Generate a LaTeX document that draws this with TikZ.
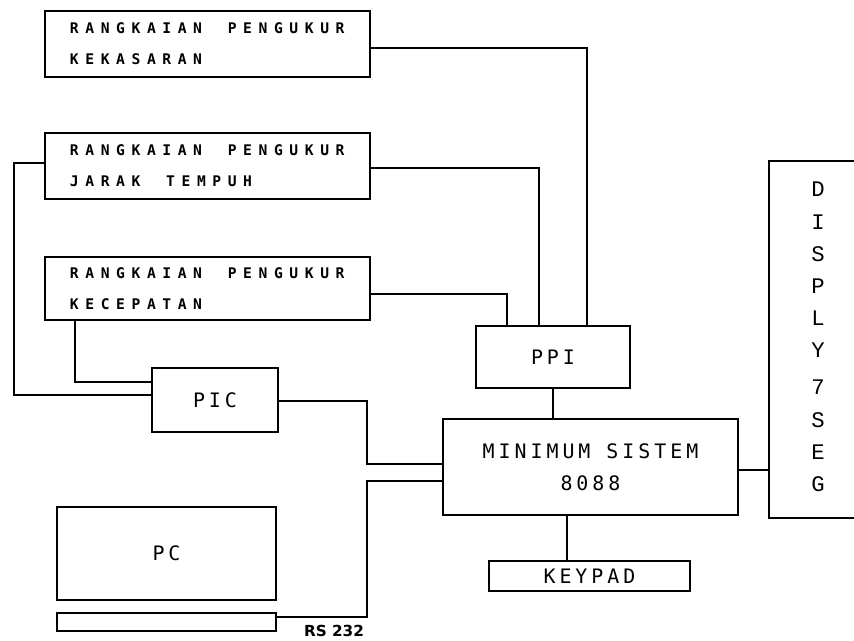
\documentclass[tikz,border=0pt]{standalone}
\usepackage{fontspec}
\usetikzlibrary{calc}
\newfontfamily\boxfont[LetterSpace=45,BoldFont={DejaVu Sans Mono Bold}]{DejaVu Sans Mono}
\newfontfamily\plotfont[LetterSpace=20]{DejaVu Sans Mono}
\newfontfamily\dispfont{Liberation Mono}
\newfontfamily\rsfont{DejaVu Sans}
\newcommand\rkfont{\boxfont\bfseries\fontsize{12.5}{26.4}\selectfont}
\newcommand\wsp{\hspace{22pt}}
\begin{document}
\begin{tikzpicture}[x=0.03cm,y=-0.03cm,
  blk/.style={draw, line width=1.3pt, inner sep=0pt},
  rk/.style={blk, minimum width=9.75cm, inner xsep=0.75cm, text width=8.25cm, align=left,
    font=\rkfont},
  pl/.style={blk, align=center, font=\plotfont\fontsize{17}{27}\selectfont},
  wire/.style={line width=1.3pt}]
\useasboundingbox (0,0) rectangle (854,641);
\clip (0,0) rectangle (854,641);
% blocks
\node[rk, minimum height=1.98cm] (b1) at (207.5,44) {RANGKAIAN\wsp PENGUKUR\\KEKASARAN};
\node[rk, minimum height=1.98cm] (b2) at (207.5,166) {RANGKAIAN\wsp PENGUKUR\\JARAK\wsp TEMPUH};
\node[rk, minimum height=1.89cm] (b3) at (207.5,288.5) {RANGKAIAN\wsp PENGUKUR\\KECEPATAN};
\node[pl, minimum width=3.78cm, minimum height=1.92cm] (pic) at (215,400) {PIC};
\node[pl, minimum width=4.62cm, minimum height=1.86cm] (ppi) at (553,357) {PPI};
\node[pl, minimum width=8.85cm, minimum height=2.88cm] (ms) at (590.5,467) {MINIMUM SISTEM\\8088};
\node[pl, minimum width=6.03cm, minimum height=0.9cm] (kp) at (589.5,576) {KEYPAD};
\node[pl, minimum width=6.57cm, minimum height=2.79cm] (pc) at (166.5,553.5) {PC};
\node[blk, minimum width=6.57cm, minimum height=0.54cm] (rs) at (166.5,622) {};
\node[inner sep=0pt, font=\rsfont\bfseries\fontsize{13}{13}\selectfont] (rslbl) at (334,631) {RS 232};
\node[blk, minimum width=3.6cm, minimum height=10.71cm, anchor=north west] (disp) at (768,160) {};
\node[inner sep=0pt, align=center, font=\dispfont\fontsize{19}{27.5}\selectfont] (dtxt) at (818,337)
  {D\\I\\S\\P\\L\\Y\\[4pt]7\\S\\E\\G};
% connectors
\draw[wire] ($(b1.east)+(0,4)$) -| ($(ppi.north)+(34,0)$);
\draw[wire] ($(b2.east)+(0,2)$) -| ($(ppi.north)+(-14,0)$);
\draw[wire] ($(b3.east)+(0,5.5)$) -| ($(ppi.north)+(-46,0)$);
\draw[wire] ($(b2.west)+(0,-3)$) -| (14,300) |- ($(pic.west)+(0,-5)$);
\draw[wire] ($(b3.south west)+(31,0)$) |- ($(pic.west)+(0,-18)$);
\draw[wire] ($(pic.east)+(0,1)$) -| (367,432) |- ($(ms.west)+(0,-3)$);
\draw[wire] ($(rs.east)+(0,-5)$) -| (367,550) |- ($(ms.west)+(0,14)$);
\draw[wire] (ppi.south) -- (ppi.south |- ms.north);
\draw[wire] ($(ms.east)+(0,3)$) coordinate (m1) -- (m1 -| disp.west);
\draw[wire] ($(ms.south)+(-23.5,0)$) coordinate (k1) -- (k1 |- kp.north);
\end{tikzpicture}
\end{document}
